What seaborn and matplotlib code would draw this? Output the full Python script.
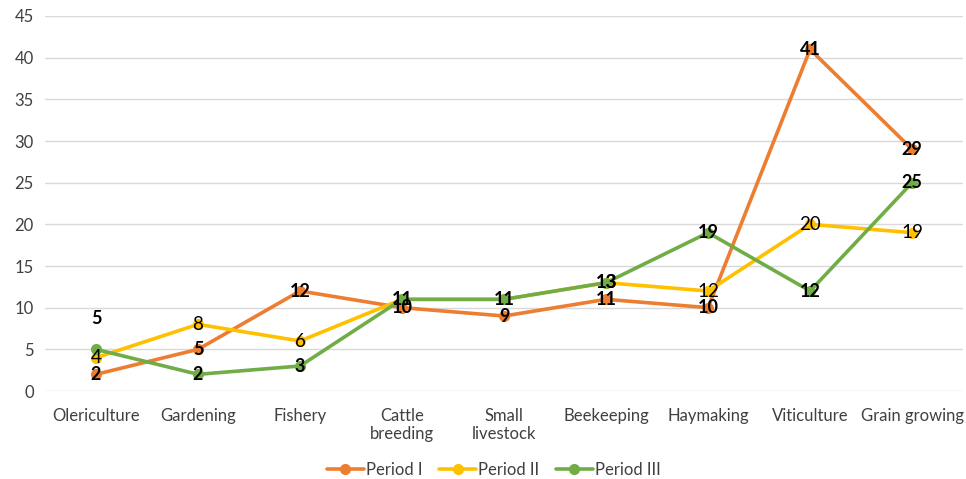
import matplotlib
matplotlib.use("Agg")
import matplotlib.pyplot as plt
import seaborn as sns
import pandas as pd

categories = ["Olericulture", "Gardening", "Fishery", "Cattle\nbreeding", "Small\nlivestock",
              "Beekeeping", "Haymaking", "Viticulture", "Grain growing"]
period_1 = [2, 5, 12, 10, 9, 11, 10, 41, 29]
period_2 = [4, 8, 6, 11, 11, 13, 12, 20, 19]
period_3 = [5, 2, 3, 11, 11, 13, 19, 12, 25]
series_names = ["Period I", "Period II", "Period III"]
colors = ["#ED7D31", "#FFC000", "#70AD47"]
y_ticks = list(range(0, 50, 5))

sns.set_theme(style="white")
plt.rcParams["font.family"] = ["Lato", "DejaVu Sans"]

rows = []
for name, vals in zip(series_names, [period_1, period_2, period_3]):
    for i, v in enumerate(vals):
        rows.append({"pos": i, "value": v, "series": name})
df = pd.DataFrame(rows)

fig = plt.figure(figsize=(9.66, 4.79), dpi=100)
ax = fig.add_axes([0.0466, 0.1837, 0.9504, 0.7829])

sns.lineplot(data=df, x="pos", y="value", hue="series", palette=colors,
             marker="o", markersize=8, markeredgewidth=0, linewidth=2.6,
             ax=ax, legend=True)

ax.set_xlim(-0.5, len(categories) - 0.5)
ax.set_ylim(0, 45)
ax.set_yticks(y_ticks)
ax.set_xticks(range(len(categories)))
ax.set_xticklabels(categories, fontsize=12, color="#404040")
ax.set_yticklabels([str(t) for t in y_ticks], fontsize=12, color="#404040")
ax.set_xlabel("")
ax.set_ylabel("")
ax.tick_params(axis="y", length=0, pad=8)
ax.tick_params(axis="x", length=0, pad=12)
ax.grid(axis="y", color="#D9D9D9", linewidth=1)
ax.set_axisbelow(True)
for s in ax.spines.values():
    s.set_visible(False)

# data labels
for i, v in enumerate(period_1):
    ax.annotate(str(v), (i, v), ha="center", va="center", fontsize=13,
                fontweight="bold", color="black")
for i, v in enumerate(period_2):
    if i in (3, 4):
        continue
    ax.annotate(str(v), (i, v), ha="center", va="center", fontsize=13.5,
                color="black")
for i, v in enumerate(period_3):
    dy = 22 if i == 0 else 0
    ax.annotate(str(v), (i, v), xytext=(0, dy), textcoords="offset points",
                ha="center", va="center", fontsize=13, fontweight="bold", color="black")

leg = ax.legend(loc="center", bbox_to_anchor=(0.489, -0.21), ncol=3, frameon=False,
                fontsize=12, handlelength=2.2, columnspacing=1.0, handletextpad=0.15)
for t in leg.get_texts():
    t.set_color("#404040")

fig.savefig("out.png", dpi=100)
